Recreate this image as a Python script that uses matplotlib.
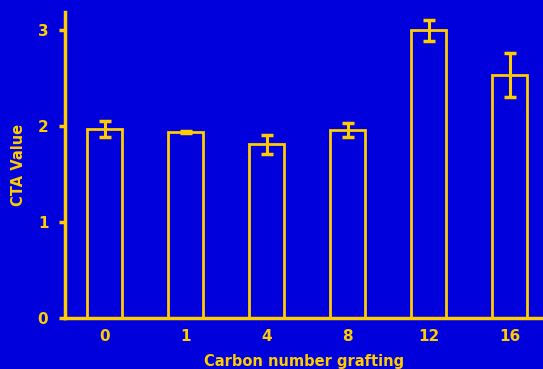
import numpy as np
import matplotlib
matplotlib.use("Agg")
import matplotlib.pyplot as plt

# carbon number grafting vs CTA value
categories = ["0", "1", "4", "8", "12", "16"]
cta_values = [1.97, 1.94, 1.81, 1.96, 3.00, 2.53]
cta_errors = [0.08, 0.01, 0.10, 0.07, 0.11, 0.23]

BG = "#0000DD"
YEL = "#FFCC00"

fig = plt.figure(figsize=(5.43, 3.69), dpi=100, facecolor=BG)
ax = fig.add_axes([65 / 543, 51 / 369, 1 - 65 / 543, 306 / 369], facecolor=BG)

x = np.arange(len(categories))
ax.bar(x, cta_values, width=0.43, facecolor="none", edgecolor=YEL, linewidth=2.0)
ax.errorbar(x, cta_values, yerr=cta_errors, fmt="none", ecolor=YEL,
            elinewidth=2.2, capsize=4.5, capthick=2.5)

ax.set_xlim(-0.49, 5.41)
ax.set_ylim(0, 3.19)
ax.set_xticks(x)
ax.set_xticklabels(categories)
ax.set_yticks([0, 1, 2, 3])

for side in ["top", "right"]:
    ax.spines[side].set_visible(False)
for side in ["left", "bottom"]:
    ax.spines[side].set_color(YEL)
    ax.spines[side].set_linewidth(2.5)

ax.tick_params(axis="x", length=0, pad=8, colors=YEL, labelsize=11)
ax.tick_params(axis="y", length=4, width=2.5, pad=8, colors=YEL, labelsize=11)
for lbl in ax.get_xticklabels() + ax.get_yticklabels():
    lbl.set_fontweight("bold")

ax.set_ylabel("CTA Value", color=YEL, fontsize=10.5, fontweight="bold", labelpad=8)
ax.set_xlabel("Carbon number grafting", color=YEL, fontsize=10.5, fontweight="bold", labelpad=7)

fig.savefig("out.png", dpi=100, facecolor=BG)
